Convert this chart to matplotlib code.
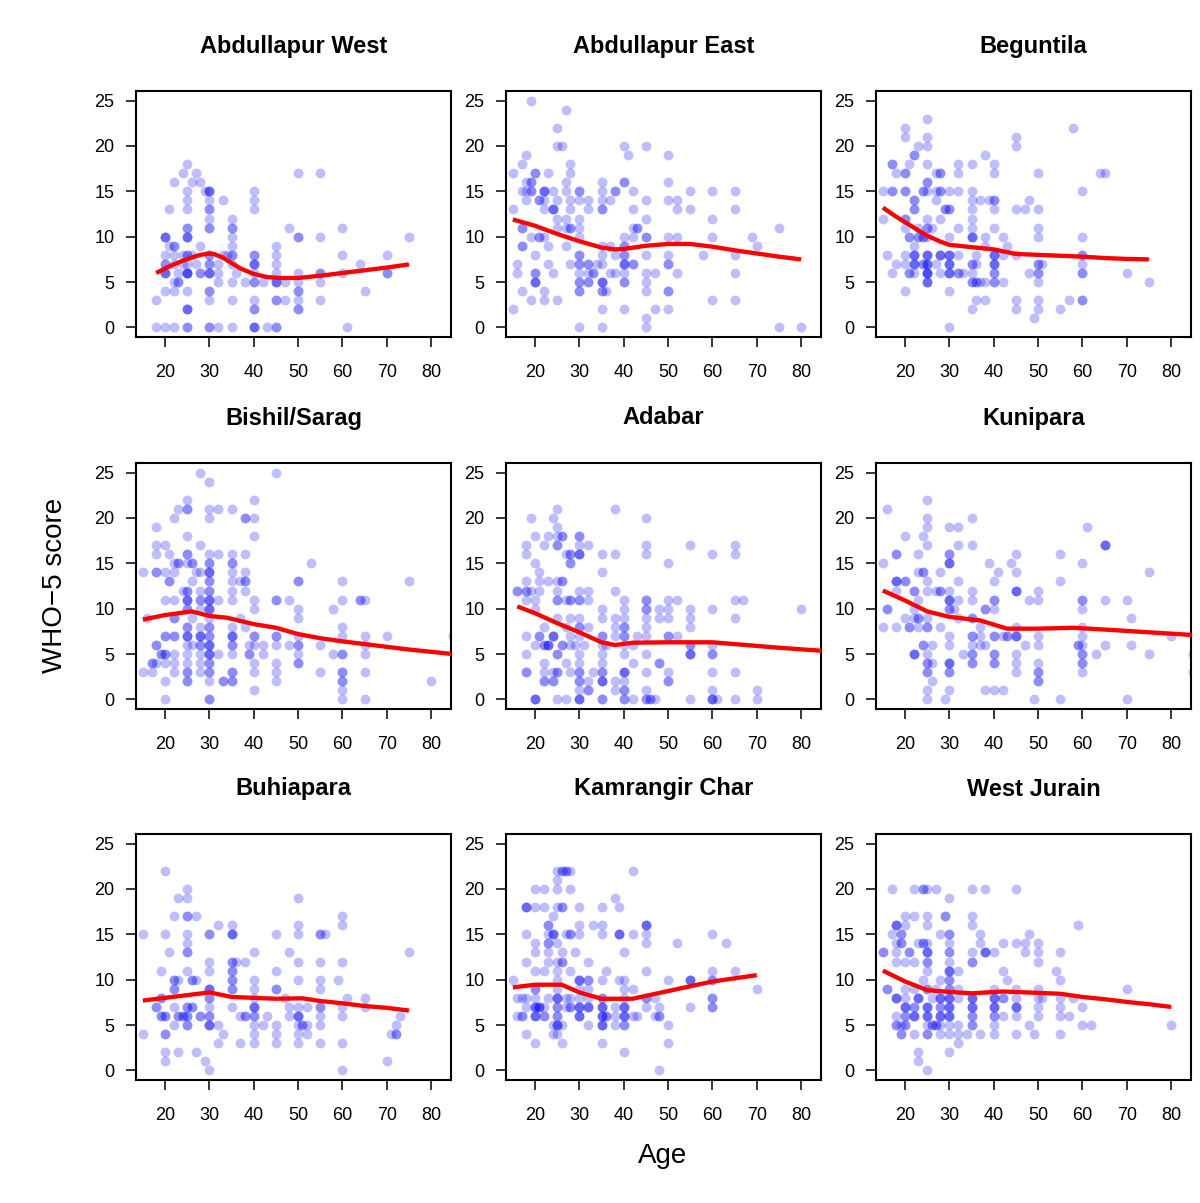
#!/usr/bin/env python3
"""WHO-5 score vs age, one panel per site, with a smoothed trend line."""
import numpy as np
import matplotlib
matplotlib.use("Agg")
import matplotlib.pyplot as plt

plt.rcParams["font.family"] = ["Liberation Sans", "DejaVu Sans"]

# ---- data: per panel, WHO-5 score -> ages of respondents (repeats = overlapping dots)
ABD_WEST = {
    18: [25], 17: [24, 27, 50, 55], 16: [22, 26, 28], 15: [25, 29, 30, 30, 30, 40],
    14: [25, 30, 33, 40], 13: [21, 25, 30, 30, 40], 12: [30, 35],
    11: [25, 25, 30, 30, 35, 35, 48, 60],
    10: [20, 20, 20, 25, 25, 25, 35, 50, 50, 55, 75],
    9: [21, 22, 22, 28, 35, 45],
    8: [20, 22, 24, 25, 25, 26, 30, 30, 33, 34, 35, 35, 40, 40, 45, 60, 70],
    7: [20, 20, 22, 24, 25, 27, 30, 30, 32, 35, 40, 40, 40, 45, 64],
    6: [20, 20, 20, 23, 25, 25, 25, 25, 28, 28, 30, 30, 30, 32, 36, 40, 45, 50, 55, 55, 60, 70, 70],
    5: [22, 23, 23, 32, 35, 38, 40, 40, 42, 45, 45, 45, 47, 50, 55],
    4: [20, 22, 25, 30, 30, 50, 50, 65],
    3: [18, 30, 35, 40, 45, 45, 47, 50, 55],
    2: [25, 25, 25, 40, 40, 50, 50],
    0: [18, 20, 22, 25, 25, 30, 30, 32, 35, 40, 40, 40, 43, 45, 45, 61],
}
ABD_EAST = {
    25: [19], 24: [27], 22: [25], 20: [25, 26, 40, 45], 19: [18, 41, 50], 18: [17, 28],
    17: [15, 20, 20, 23, 28], 16: [18, 19, 19, 27, 35, 40, 40, 50],
    15: [17, 18, 19, 19, 22, 22, 22, 24, 27, 30, 30, 35, 38, 38, 42, 55, 60, 65],
    14: [18, 21, 21, 22, 25, 28, 30, 32, 35, 37, 45, 50, 52],
    13: [15, 22, 24, 24, 24, 28, 32, 35, 35, 42, 52, 55, 65],
    12: [25, 27, 30, 45, 60],
    11: [17, 17, 25, 27, 28, 28, 30, 42, 43, 43, 75],
    10: [19, 21, 21, 22, 30, 40, 42, 45, 45, 50, 52, 60, 69],
    9: [17, 17, 23, 27, 35, 37, 40, 40, 70],
    8: [20, 30, 30, 35, 38, 40, 40, 45, 50, 58, 65],
    7: [16, 23, 28, 30, 30, 32, 32, 34, 35, 40, 40, 40, 42, 42, 50, 50],
    6: [16, 20, 20, 24, 30, 32, 33, 33, 37, 38, 40, 45, 47, 52, 65],
    5: [20, 20, 20, 30, 30, 32, 32, 35, 35, 35, 40, 40, 45],
    4: [17, 22, 30, 30, 35, 35, 36, 45, 50, 50],
    3: [19, 22, 25, 60, 65], 2: [15, 35, 40, 47, 50], 1: [45], 0: [30, 35, 45, 75, 80],
}
BEGUNTILA = {
    23: [25], 22: [20, 58], 21: [20, 25, 45], 20: [23, 25, 45], 19: [22, 22, 38],
    18: [17, 17, 21, 25, 32, 35, 40],
    17: [18, 20, 20, 27, 28, 28, 32, 40, 50, 64, 65],
    16: [25, 25],
    15: [15, 17, 17, 20, 20, 24, 24, 25, 27, 28, 28, 30, 32, 35, 60],
    14: [22, 22, 27, 35, 37, 39, 40, 40, 48],
    13: [22, 22, 29, 29, 30, 30, 35, 40, 45, 47, 50],
    12: [15, 20, 20, 25, 28, 35],
    11: [20, 23, 25, 25, 26, 32, 35, 40, 50],
    10: [21, 21, 23, 23, 24, 24, 25, 30, 35, 35, 35, 38, 42, 50, 60],
    9: [22, 38, 43],
    8: [16, 20, 22, 22, 22, 25, 25, 25, 28, 28, 28, 30, 30, 30, 32, 36, 40, 40, 40, 42, 45, 60, 60],
    7: [18, 20, 22, 22, 22, 24, 24, 25, 25, 25, 27, 30, 30, 30, 35, 35, 36, 40, 40, 40, 50, 50, 51, 60],
    6: [17, 21, 21, 22, 25, 25, 25, 25, 28, 30, 30, 30, 32, 32, 33, 35, 40, 40, 48, 50, 50, 60, 60, 70],
    5: [25, 25, 25, 35, 35, 36, 36, 37, 38, 40, 40, 42, 50, 75],
    4: [20, 30], 3: [36, 38, 45, 50, 57, 60, 60], 2: [35, 45, 50, 55], 1: [49], 0: [30],
}
BISHIL = {
    25: [28, 45], 24: [30], 22: [25, 40], 21: [23, 25, 25, 30, 32, 35],
    20: [22, 30, 38, 38, 40], 19: [18], 18: [25, 40], 17: [18, 20, 28],
    16: [18, 21, 25, 25, 30, 32, 35, 38],
    15: [22, 23, 23, 25, 26, 26, 30, 30, 35, 35, 53],
    14: [15, 18, 18, 20, 22, 27, 28, 30, 30, 30, 35, 38],
    13: [21, 21, 26, 30, 30, 35, 37, 38, 38, 50, 50, 60, 75],
    12: [24, 25, 25, 28, 30, 30, 35, 38],
    11: [20, 22, 25, 25, 25, 28, 28, 30, 30, 30, 32, 35, 40, 45, 45, 48, 60, 64, 64, 65],
    10: [25, 25, 28, 30, 30, 30, 40, 50, 58],
    9: [16, 22, 22, 26, 30, 37, 50],
    8: [25, 25, 28, 30, 30, 35, 38, 60],
    7: [20, 20, 22, 22, 25, 25, 25, 28, 28, 28, 30, 30, 35, 35, 35, 40, 40, 45, 45, 50, 60, 65, 70, 85],
    6: [18, 18, 25, 26, 28, 28, 30, 30, 30, 35, 35, 39, 40, 42, 45, 48, 50, 50, 55, 65],
    5: [19, 19, 20, 20, 22, 25, 28, 30, 30, 30, 32, 35, 39, 39, 42, 50, 58, 60, 60, 65],
    4: [17, 17, 18, 20, 22, 25, 28, 30, 30, 40, 45, 50, 50],
    3: [15, 17, 22, 25, 25, 28, 30, 30, 35, 35, 40, 45, 55, 60, 60, 65],
    2: [20, 25, 25, 30, 33, 33, 35, 35, 45, 60, 60, 80],
    1: [40, 60], 0: [20, 30, 30, 60, 65],
}
ADABAR = {
    21: [25, 38], 20: [19, 24, 45], 19: [25], 18: [20, 23, 25, 26, 26, 30, 30],
    17: [18, 22, 25, 25, 30, 32, 45, 55, 65],
    16: [18, 27, 28, 28, 30, 30, 30, 35, 38, 45, 60, 65],
    15: [20, 28, 28, 50], 14: [21, 35], 13: [18, 21, 23, 25, 26, 26],
    12: [16, 16, 18, 18, 19, 21, 25, 30, 32, 38],
    11: [18, 20, 25, 25, 27, 28, 28, 30, 30, 32, 40, 45, 45, 50, 52, 65, 67],
    10: [20, 35, 40, 45, 45, 48, 50, 55, 60, 80],
    9: [25, 28, 30, 35, 38, 40, 45, 48, 50, 55, 65],
    8: [22, 27, 30, 30, 32, 38, 40, 40, 45, 55],
    7: [18, 21, 21, 24, 24, 24, 28, 30, 35, 35, 38, 40, 40, 43, 45, 50, 50, 52],
    6: [20, 22, 22, 23, 23, 23, 26, 26, 28, 29, 31, 35, 36, 40, 42, 55, 55, 60],
    5: [18, 25, 25, 30, 35, 40, 45, 55, 55, 55, 60, 60],
    4: [22, 27, 30, 35, 42, 48, 48],
    3: [18, 18, 22, 24, 25, 25, 28, 30, 30, 33, 35, 35, 40, 40, 40, 45, 50, 60, 65],
    2: [22, 22, 24, 24, 30, 30, 32, 35, 35, 35, 38, 40, 50, 50],
    1: [30, 32, 32, 38, 40, 40, 45, 60, 70],
    0: [20, 20, 20, 25, 27, 30, 30, 30, 35, 35, 40, 40, 42, 45, 45, 46, 46, 47, 55, 60, 60, 60, 61, 65, 70],
}
KUNIPARA = {
    22: [25], 21: [16], 20: [25, 35], 19: [25, 30, 32, 61], 18: [20, 24],
    17: [25, 32, 35, 65, 65, 65], 16: [18, 18, 23, 30, 30, 45, 55],
    15: [15, 30, 30, 30, 39, 44, 60], 14: [23, 24, 24, 28, 41, 45, 75],
    13: [18, 18, 18, 20, 20, 25, 32, 40, 55],
    12: [18, 22, 22, 25, 27, 28, 28, 30, 35, 45, 45, 45, 50],
    11: [23, 30, 30, 30, 32, 35, 40, 40, 48, 50, 60, 60, 65, 70],
    10: [16, 16, 22, 30, 30, 31, 38, 38, 40, 60],
    9: [20, 22, 23, 23, 25, 32, 35, 35, 71],
    8: [15, 18, 21, 21, 23, 25, 25, 28, 37, 45, 60],
    7: [30, 35, 35, 37, 40, 40, 42, 43, 43, 45, 45, 45, 50, 60, 80],
    6: [24, 24, 26, 30, 35, 37, 38, 47, 50, 59, 59, 60, 65, 71],
    5: [22, 22, 22, 25, 33, 35, 35, 40, 40, 45, 60, 60, 63, 75, 85],
    4: [25, 25, 26, 30, 30, 30, 35, 35, 40, 40, 45, 50, 60, 60],
    3: [25, 25, 30, 30, 45, 50, 50, 60, 85],
    2: [26, 50, 50], 1: [25, 30, 38, 40, 42], 0: [25, 29, 49, 55, 70],
}
BUHIAPARA = {
    22: [20], 20: [25], 19: [23, 25, 50], 17: [22, 25, 25, 27, 60], 16: [32, 35, 50, 60],
    15: [15, 20, 25, 30, 30, 35, 35, 35, 45, 50, 55, 55, 56],
    14: [25], 13: [21, 25, 25, 40, 48, 75],
    12: [30, 35, 35, 36, 38, 50, 55, 60],
    11: [19, 25, 30, 35, 35, 45],
    10: [22, 22, 23, 26, 26, 27, 35, 35, 40, 50, 55, 59],
    9: [22, 22, 30, 30, 30, 35, 35, 40, 45, 45, 55],
    8: [19, 19, 30, 30, 40, 47, 61, 65],
    7: [18, 18, 22, 25, 25, 26, 26, 30, 35, 40, 40, 40, 48, 50, 52, 55, 55, 60, 65],
    6: [19, 19, 20, 20, 23, 23, 24, 24, 25, 25, 28, 28, 30, 30, 37, 38, 38, 40, 40, 43, 48, 50, 50, 50, 55, 60, 73],
    5: [22, 25, 25, 30, 30, 30, 32, 40, 42, 45, 50, 51, 51, 52, 55, 72],
    4: [15, 20, 20, 33, 40, 45, 50, 52, 71, 72, 72],
    3: [32, 37, 40, 45, 50, 55, 60],
    2: [20, 23, 27], 1: [20, 29, 70], 0: [30, 60],
}
KAMRANGIR = {
    22: [25, 26, 26, 27, 27, 28, 42], 21: [25], 20: [20, 22, 25, 28], 19: [38],
    18: [18, 18, 18, 20, 22, 25, 26, 26, 30, 35, 39], 17: [24],
    16: [23, 23, 30, 33, 35, 45, 45, 45],
    15: [18, 23, 24, 24, 24, 27, 28, 28, 30, 35, 39, 39, 39, 42, 45, 60],
    14: [20, 23, 23, 25, 45, 52, 63], 13: [20, 23, 26, 29, 40],
    12: [18, 23, 25, 26, 26, 32], 11: [20, 22, 25, 28, 36, 45, 60, 65],
    10: [15, 25, 30, 30, 30, 32, 32, 35, 39, 40, 50, 55, 55, 55, 60, 60],
    9: [20, 20, 25, 30, 32, 40, 42, 70],
    8: [16, 17, 18, 20, 23, 25, 25, 25, 27, 28, 30, 32, 35, 35, 40, 45, 45, 47, 60, 60],
    7: [18, 20, 20, 20, 21, 21, 21, 22, 25, 25, 27, 28, 28, 30, 30, 30, 32, 32, 32,
        35, 35, 35, 38, 40, 40, 40, 45, 48, 55, 60, 60],
    6: [16, 17, 17, 20, 20, 20, 22, 22, 25, 25, 30, 30, 30, 35, 35, 35, 36, 36, 38,
        40, 40, 40, 42, 43, 47, 48, 48],
    5: [24, 25, 25, 25, 26, 32, 35, 35, 35, 38, 40, 40, 50],
    4: [18, 24, 25], 3: [20, 26, 35, 50], 2: [40], 0: [48],
}
WEST_JURAIN = {
    20: [17, 22, 24, 24, 25, 27, 35, 38, 45], 19: [30], 17: [20, 22, 25, 29, 29, 35],
    16: [18, 18, 18, 20, 25, 35, 59], 15: [17, 19, 19, 28, 30, 30, 37, 48],
    14: [18, 19, 19, 23, 24, 24, 25, 30, 37, 42, 45, 47, 50],
    13: [15, 15, 18, 21, 21, 25, 25, 25, 30, 30, 35, 38, 38, 38, 40, 47, 50, 55],
    12: [18, 20, 22, 25, 25, 30, 35, 35, 50],
    11: [25, 30, 30, 30, 32, 42, 54],
    10: [24, 28, 30, 30, 43, 55],
    9: [16, 16, 20, 22, 25, 25, 27, 30, 30, 32, 40, 45, 50, 70],
    8: [18, 18, 18, 20, 23, 23, 23, 26, 28, 28, 28, 30, 30, 30, 32, 35, 35, 35,
        40, 40, 40, 42, 42, 45, 50, 51, 55, 58],
    7: [20, 20, 20, 22, 22, 25, 25, 25, 28, 28, 30, 30, 30, 35, 35, 35, 40, 40, 40,
        45, 45, 45, 50, 55, 60],
    6: [18, 20, 20, 22, 22, 22, 25, 25, 25, 28, 28, 28, 30, 30, 30, 35, 35, 40, 40,
        42, 45, 50, 55, 57],
    5: [18, 18, 19, 20, 20, 25, 26, 26, 27, 27, 28, 30, 32, 35, 35, 40, 48, 60, 62, 80],
    4: [19, 19, 22, 25, 25, 28, 30, 32, 34, 37, 40, 45, 49, 55],
    3: [32], 2: [23, 30], 1: [23], 0: [25],
}

# ---- smoothed trend (age, score)
TREND_ABD_WEST = ([18, 20, 22, 24, 26, 28, 30, 31, 33, 35, 37, 40, 43, 46, 50, 55, 60, 65, 70, 75],
                  [6.0, 6.5, 6.95, 7.35, 7.7, 8.0, 8.15, 8.1, 7.7, 7.1, 6.5, 5.9, 5.55, 5.45, 5.45, 5.7, 6.0, 6.3, 6.6, 6.95])
TREND_ABD_EAST = ([15, 20, 25, 30, 35, 38, 40, 45, 50, 55, 60, 65, 70, 75, 80],
                  [11.9, 11.2, 10.3, 9.5, 8.8, 8.6, 8.65, 9.0, 9.2, 9.2, 8.9, 8.5, 8.15, 7.8, 7.5])
TREND_BEGUNTILA = ([15, 18, 20, 23, 25, 28, 30, 35, 40, 45, 50, 55, 60, 65, 70, 75],
                   [13.2, 12.2, 11.6, 10.7, 10.1, 9.45, 9.1, 8.85, 8.6, 8.1, 8.0, 7.9, 7.8, 7.65, 7.55, 7.5])
TREND_BISHIL = ([15, 20, 26, 30, 34, 40, 45, 50, 55, 60, 65, 70, 75, 85],
                [8.8, 9.3, 9.7, 9.2, 9.0, 8.3, 7.9, 7.2, 6.75, 6.4, 6.1, 5.8, 5.5, 5.0])
TREND_ADABAR = ([16, 20, 25, 30, 35, 38, 42, 50, 60, 65, 70, 75, 85],
                [10.25, 9.5, 8.4, 7.4, 6.3, 6.0, 6.25, 6.3, 6.3, 6.1, 5.9, 5.7, 5.35])
TREND_KUNIPARA = ([15, 20, 25, 30, 37, 43, 50, 58, 65, 75, 85],
                  [12.0, 10.9, 9.7, 9.1, 8.7, 7.8, 7.8, 7.9, 7.7, 7.4, 7.1])
TREND_BUHIAPARA = ([15, 20, 25, 30, 35, 40, 45, 51, 55, 60, 65, 70, 75],
                   [7.7, 8.0, 8.3, 8.6, 8.1, 8.0, 7.9, 7.95, 7.65, 7.4, 7.1, 6.9, 6.6])
TREND_KAMRANGIR = ([15, 20, 26, 30, 35, 42, 50, 60, 70],
                   [9.15, 9.45, 9.45, 8.6, 7.9, 7.9, 8.75, 9.8, 10.5])
TREND_WEST_JURAIN = ([15, 20, 25, 30, 35, 42, 50, 55, 60, 65, 70, 75, 80],
                     [11.0, 9.8, 8.85, 8.65, 8.5, 8.7, 8.55, 8.45, 8.1, 7.85, 7.55, 7.3, 7.0])

TITLES = ["Abdullapur West", "Abdullapur East", "Beguntila",
          "Bishil/Sarag", "Adabar", "Kunipara",
          "Buhiapara", "Kamrangir Char", "West Jurain"]
SITES = [ABD_WEST, ABD_EAST, BEGUNTILA, BISHIL, ADABAR, KUNIPARA,
         BUHIAPARA, KAMRANGIR, WEST_JURAIN]
TRENDS = [TREND_ABD_WEST, TREND_ABD_EAST, TREND_BEGUNTILA, TREND_BISHIL, TREND_ADABAR,
          TREND_KUNIPARA, TREND_BUHIAPARA, TREND_KAMRANGIR, TREND_WEST_JURAIN]
X_TICKS = [20, 30, 40, 50, 60, 70, 80]
Y_TICKS = [0, 5, 10, 15, 20, 25]

W, H = 1200, 1203
COL_LEFT = [136, 506, 876]
ROW_TOP = [91, 463, 834]
BOX_W, BOX_H = 315, 246


def expand(site):
    ages, scores = [], []
    for score, lst in site.items():
        ages.extend(lst)
        scores.extend([score] * len(lst))
    return np.array(ages), np.array(scores)


def draw_panel(ax, site, trend, title):
    age, who5 = expand(site)
    ax.scatter(age, who5, s=50, color="#0000ff", alpha=0.26, linewidths=0, zorder=2)
    ax.plot(trend[0], trend[1], color="#ff0000", lw=3.1, solid_capstyle="butt", zorder=3)
    ax.set_xlim(13.46, 84.5)
    ax.set_ylim(-1.05, 26.05)
    ax.set_xticks(X_TICKS)
    ax.set_yticks(Y_TICKS)
    ax.tick_params(direction="out", length=7.5, width=1.1, labelsize=13, color="black")
    ax.tick_params(axis="x", pad=12)
    ax.tick_params(axis="y", pad=8)
    for sp in ax.spines.values():
        sp.set_linewidth(1.5)
    ax.text(0.5, 1 + 45 / BOX_H, title, transform=ax.transAxes, ha="center",
            va="center", fontsize=17, fontweight="bold")


def main():
    fig = plt.figure(figsize=(W / 100, H / 100), dpi=100)
    for i, (site, trend, title) in enumerate(zip(SITES, TRENDS, TITLES)):
        r, c = divmod(i, 3)
        left = COL_LEFT[c] / W
        bottom = 1 - (ROW_TOP[r] + BOX_H) / H
        ax = fig.add_axes([left, bottom, BOX_W / W, BOX_H / H])
        draw_panel(ax, site, trend, title)

    fig.text(55 / W, 1 - 585 / H, "WHO\u22125 score", rotation=90,
             ha="center", va="center", fontsize=20)
    fig.text(663 / W, 1 - 1156 / H, "Age", ha="center", va="center", fontsize=20)
    fig.savefig("out.png", dpi=100, facecolor="white")


if __name__ == "__main__":
    main()
